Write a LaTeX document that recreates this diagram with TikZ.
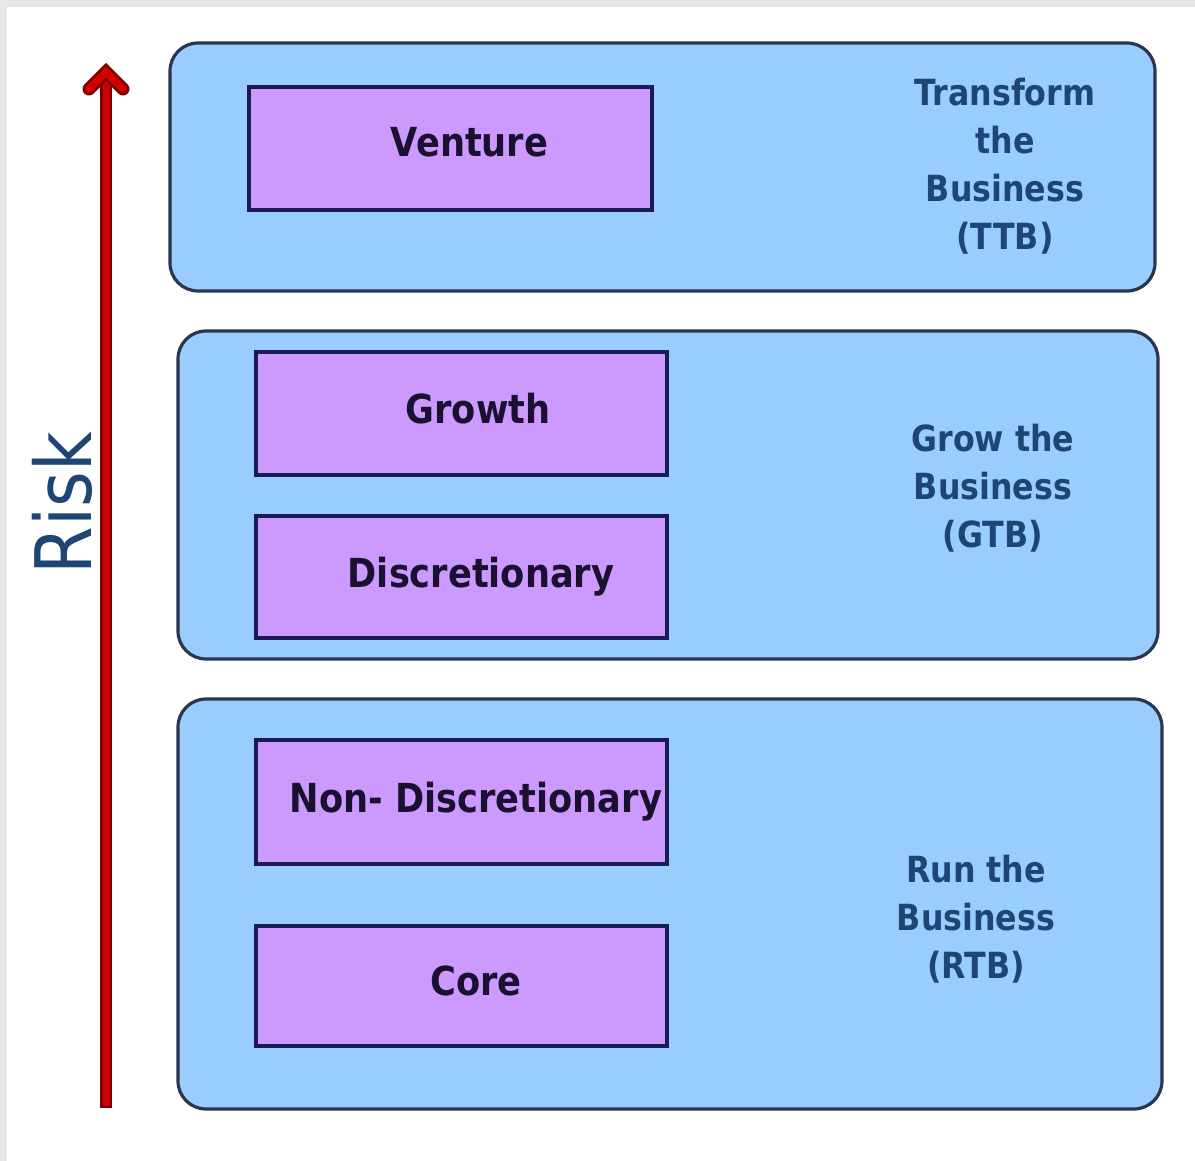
\documentclass[tikz,border=0pt]{standalone}
\usepackage{fontspec}
\setmainfont{DejaVu Sans}[FakeStretch=0.88]
\definecolor{paneblue}{HTML}{99CCFF}
\definecolor{paneedge}{HTML}{2A3650}
\definecolor{tilepurple}{HTML}{CC99FF}
\definecolor{tileedge}{HTML}{1A1A55}
\definecolor{tiletext}{HTML}{1A1030}
\definecolor{labelblue}{HTML}{1D4674}
\definecolor{arrowred}{HTML}{D00000}
\definecolor{arrowdark}{HTML}{7A0000}
\definecolor{framegray}{HTML}{E6E6E6}
\tikzset{
  pane/.style={draw=paneedge, fill=paneblue, line width=3.2pt, rounded corners=28pt,
    inner sep=0pt, outer sep=0pt},
  tile/.style={draw=tileedge, fill=tilepurple, line width=3.2pt, inner sep=0pt,
    outer sep=0pt, minimum width=411pt},
  tiletxt/.style={anchor=base, inner sep=0pt, text=tiletext,
    font=\fontsize{40}{48}\selectfont\bfseries},
  panetxt/.style={align=center, inner sep=0pt, text=labelblue,
    font=\fontsize{36}{48}\selectfont\bfseries},
}
\begin{document}
\begin{tikzpicture}[x=1pt, y=-1pt]
% page frame
\fill[framegray] (0,0) rectangle (1195,1161);
\fill[white] (7,7) rectangle (1195,1161);
\useasboundingbox (0,0) rectangle (1195,1161);

% three horizontal bands
\node[pane, minimum width=985pt, minimum height=248pt] (ttb) at (662.5,167) {};
\node[pane, minimum width=980pt, minimum height=328pt] (gtb) at (668,495) {};
\node[pane, minimum width=984pt, minimum height=410pt] (rtb) at (670,904) {};

% category tiles
\node[tile, minimum width=403pt, minimum height=123pt] (venture) at (450.5,148.5) {};
\node[tile, minimum height=123pt] (growth) at (461.5,413.5) {};
\node[tile, minimum height=122pt] (discr) at (461.5,577) {};
\node[tile, minimum height=124pt] (nondiscr) at (461.5,802) {};
\node[tile, minimum height=120pt] (core) at (461.5,986) {};

% tile captions
\node[tiletxt] (ventureT) at (469.5,157) {Venture};
\node[tiletxt] (growthT) at (478,423) {Growth};
\node[tiletxt] (discrT) at (481,587) {Discretionary};
\node[tiletxt] (nondiscrT) at (476,812) {Non- Discretionary};
\node[tiletxt] (coreT) at (476,995) {Core};

% band captions
\node[panetxt] (ttbT) at (1005,166) {Transform\\the\\Business\\(TTB)};
\node[panetxt] (gtbT) at (993,488) {Grow the\\Business\\(GTB)};
\node[panetxt] (rtbT) at (976,919) {Run the\\Business\\(RTB)};

% risk axis
\coordinate (riskbase) at (106,1108);
\coordinate (risktip) at (106,72);
\coordinate (wingL) at (89,89);
\coordinate (wingR) at (123,89);
\draw[arrowdark, line width=12pt] (riskbase) -- (risktip);
\draw[arrowred, line width=7pt, shorten <=2.5pt] (riskbase) -- (risktip);
\draw[arrowdark, line width=13pt, line cap=round, line join=miter] (wingL) -- (risktip) -- (wingR);
\draw[arrowred, line width=8pt, line cap=round, line join=miter] (wingL) -- (risktip) -- (wingR);
\node[rotate=90, inner sep=0pt, text=labelblue, font=\fontsize{78}{80}\selectfont] (risk) at (62,503) {Risk};
\end{tikzpicture}
\end{document}
